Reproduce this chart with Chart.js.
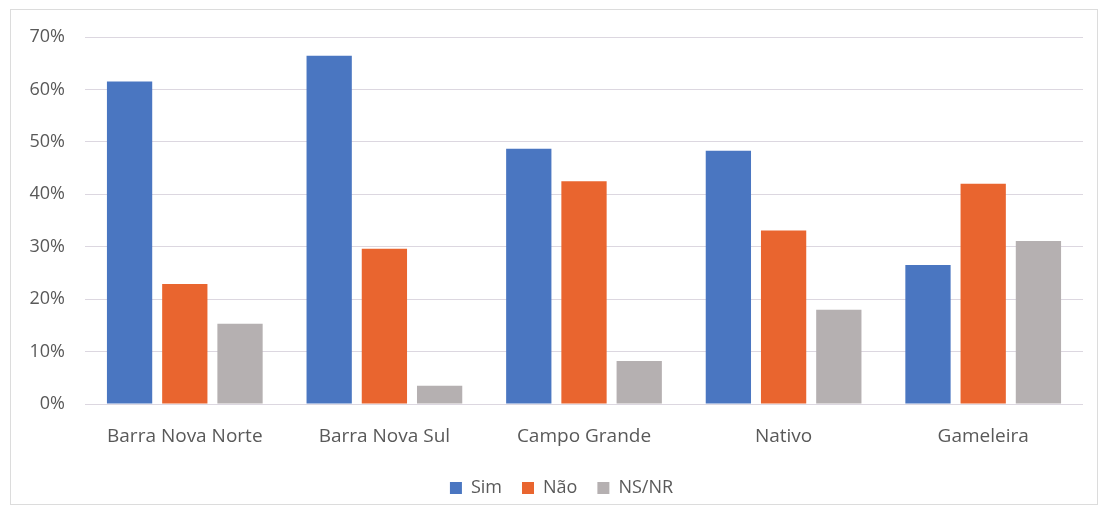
<!DOCTYPE html>
<html>
<head>
<meta charset="utf-8">
<script src="https://cdn.jsdelivr.net/npm/chart.js@4/dist/chart.umd.min.js"></script>
<style>
  html, body { margin: 0; padding: 0; background: #fff; }
  #wrap { position: absolute; left: 0; top: 0; width: 1104px; height: 513px; }
  #frame { position: absolute; left: 10px; top: 9px; width: 1086px; height: 494px; border: 1px solid #dcdcdc; pointer-events: none; }
</style>
</head>
<body>
<div id="wrap">
  <canvas id="c" width="1104" height="513"></canvas>
  <div id="frame"></div>
</div>
<script>
const categories = ["Barra Nova Norte", "Barra Nova Sul", "Campo Grande", "Nativo", "Gameleira"];
const seriesNames = ["Sim", "Não", "NS/NR"];
const sim  = [61.5, 66.4, 48.7, 48.3, 26.5];
const nao  = [22.9, 29.6, 42.5, 33.1, 42.0];
const nsnr = [15.3, 3.5, 8.2, 18.0, 31.1];
const yTicks = [0, 10, 20, 30, 40, 50, 60, 70];

const colors = ["#4a76c1", "#e9652f", "#b5b0b1"];
const font = "'Open Sans', 'DejaVu Sans', sans-serif";
const textColor = "#595959";

const shiftLegend = {
  id: "shiftLegend",
  afterLayout(chart) {
    const lg = chart.legend;
    if (lg) { lg.left += 15; lg.right += 15; }
  }
};

new Chart(document.getElementById("c"), {
  type: "bar",
  data: {
    labels: categories,
    datasets: [sim, nao, nsnr].map((d, i) => ({
      label: seriesNames[i],
      data: d,
      backgroundColor: colors[i],
      borderWidth: 0,
      barPercentage: 0.82,
      categoryPercentage: 0.83
    }))
  },
  plugins: [shiftLegend],
  options: {
    responsive: false,
    animation: false,
    events: [],
    layout: { padding: { left: 10, right: 21, top: 37, bottom: 6 } },
    plugins: {
      tooltip: { enabled: false },
      legend: {
        position: "bottom",
        labels: {
          font: { family: font, size: 18 },
          color: textColor,
          boxWidth: 12,
          boxHeight: 12,
          padding: 20
        }
      }
    },
    scales: {
      x: {
        grid: { display: false, drawTicks: false },
        border: { display: false },
        ticks: { font: { family: font, size: 19 }, color: textColor, padding: 21 },
        afterFit: s => { s.height = 55; }
      },
      y: {
        min: 0, max: 70,
        afterBuildTicks: s => { s.ticks = yTicks.map(v => ({ value: v })); },
        grid: { color: "#dcd7e0", lineWidth: 1, drawTicks: false },
        border: { display: false },
        ticks: {
          font: { family: font, size: 18 },
          color: textColor,
          padding: 20,
          callback: v => v + "%"
        },
        afterFit: s => { s.width = 75; }
      }
    }
  }
});
</script>
</body>
</html>
